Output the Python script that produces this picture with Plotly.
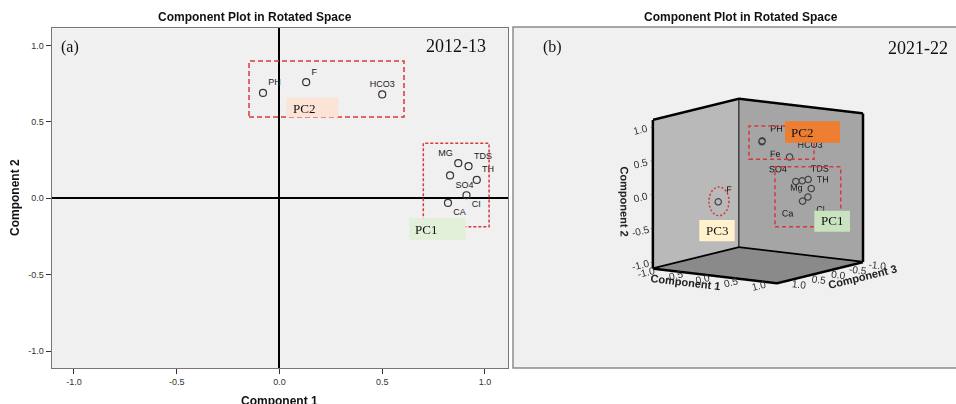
import plotly.graph_objects as go

W, H = 956, 404

# ---------------- data: 2012-13 rotated loadings (PC1, PC2) ----------------
vars_a = ["PH", "F", "HCO3", "MG", "TDS", "SO4", "TH", "CI", "CA"]
pc1_a = [-0.08, 0.13, 0.50, 0.87, 0.92, 0.83, 0.96, 0.91, 0.82]
pc2_a = [0.69, 0.76, 0.68, 0.23, 0.21, 0.15, 0.12, 0.02, -0.03]

# ---------------- data: 2021-22 rotated loadings (PC1, PC2, PC3) ----------------
vars_b = ["PH", "Fe", "HCO3", "SO4", "TDS", "TH", "Mg", "Cl", "Ca", "F"]
pc1_b = [0.07, 0.08, 0.59, 0.84, 0.85, 0.92, 0.94, 0.95, 0.89, -0.12]
pc2_b = [0.75, 0.74, 0.57, 0.26, 0.25, 0.27, 0.13, 0.02, -0.04, -0.05]
pc3_b = [0.00, 0.02, 0.05, 0.25, 0.10, 0.05, 0.00, 0.10, 0.15, 0.85]

tick_vals = [-1.0, -0.5, 0.0, 0.5, 1.0]
tick_text = ["-1.0", "-0.5", "0.0", "0.5", "1.0"]

# label placement (style)
pos_a = ["top right", "top right", "top center", "top left", "top right",
         "bottom right", "top right", "bottom right", "bottom right"]
pos_b = ["top right", "bottom right", "top right", "top left", "top right",
         "middle right", "middle left", "bottom right", "bottom left", "top right"]

SANS = "Liberation Sans, Arial, sans-serif"
SERIF = "Liberation Serif, Times New Roman, serif"
LIM = 1.1


def px(x):
    return x / W


def py(y):
    return 1 - y / H


fig = go.Figure()

# ---- panel (a): 2-D loading plot ----
fig.add_trace(go.Scatter(
    x=pc1_a, y=pc2_a, text=vars_a, mode="markers+text",
    textposition=pos_a,
    textfont=dict(family=SANS, size=9, color="#1a1a1a"),
    marker=dict(symbol="circle-open", size=7, color="#333", line=dict(width=1.2)),
    cliponaxis=False, showlegend=False, hoverinfo="skip",
    xaxis="x", yaxis="y",
))

# ---- panel (b): 3-D loading plot (x = Component 3, y = Component 1, z = Component 2) ----
R = LIM
cx = [R, R, None, -R, -R, None, -R, -R, None, R, -R, -R, None,
      R, -R, -R, None, R, R, -R]
cy = [-R, -R, None, -R, -R, None, R, R, None, -R, -R, R, None,
      -R, -R, R, None, -R, R, R]
cz = [-R, R, None, -R, R, None, -R, R, None, R, R, R, None,
      -R, -R, -R, None, -R, -R, -R]
fig.add_trace(go.Scatter3d(
    x=cx, y=cy, z=cz, mode="lines", connectgaps=False,
    line=dict(color="black", width=5), showlegend=False, hoverinfo="skip",
    scene="scene",
))
fig.add_trace(go.Scatter3d(
    x=pc3_b, y=pc1_b, z=pc2_b, text=vars_b, mode="markers+text",
    textposition=pos_b,
    textfont=dict(family=SANS, size=9, color="#1a1a1a"),
    marker=dict(symbol="circle-open", size=4, color="#333", line=dict(width=1.5)),
    showlegend=False, hoverinfo="skip", scene="scene",
))

ax3 = dict(range=[-LIM, LIM], tickvals=tick_vals, ticktext=tick_text,
           showgrid=False, zeroline=False, showline=False,
           showbackground=True, ticks="outside", ticklen=4,
           tickcolor="#333", tickfont=dict(family=SANS, size=11, color="#333"),
           showspikes=False)
title3 = dict(family=SANS, size=11, color="#222", weight="bold")

fig.update_layout(
    width=W, height=H, margin=dict(l=0, r=0, t=0, b=0),
    paper_bgcolor="white", plot_bgcolor="#f0f0f0",
    xaxis=dict(domain=[px(51.7), px(508)], range=[-1.108, 1.112],
               tickvals=tick_vals, ticktext=tick_text,
               ticks="outside", ticklen=5, tickcolor="#333",
               tickfont=dict(family=SANS, size=9, color="#333"),
               showgrid=False, zeroline=True, zerolinecolor="black", zerolinewidth=1.5,
               showline=True, linecolor="#777", linewidth=1.2, mirror=True),
    yaxis=dict(domain=[py(368.3), py(28.3)], range=[-1.113, 1.113],
               tickvals=tick_vals, ticktext=tick_text,
               ticks="outside", ticklen=5, tickcolor="#333",
               tickfont=dict(family=SANS, size=9, color="#333"),
               showgrid=False, zeroline=True, zerolinecolor="black", zerolinewidth=1.5,
               showline=True, linecolor="#777", linewidth=1.2, mirror=True),
    scene=dict(
        domain=dict(x=[px(560), 1.0], y=[py(342), py(40)]),
        aspectmode="cube",
        bgcolor="rgba(0,0,0,0)",
        xaxis=dict(ax3, title=dict(text="Component 3", font=title3), backgroundcolor="#a5a5a5"),
        yaxis=dict(ax3, title=dict(text="Component 1", font=title3), backgroundcolor="#b9b9b9"),
        zaxis=dict(ax3, title=dict(text="Component 2", font=title3), backgroundcolor="#8a8a8a"),
        camera=dict(eye=dict(x=2 * 0.810, y=2 * 0.561, z=2 * 0.170),
                    up=dict(x=0, y=0, z=1), center=dict(x=0, y=0, z=0),
                    projection=dict(type="orthographic")),
    ),
)

shapes = []
# panel (b) frame
shapes.append(dict(type="rect", xref="paper", yref="paper", layer="below",
                   x0=px(513), x1=px(960), y0=py(368), y1=py(27),
                   fillcolor="#f0f0f0", line=dict(color="#8c8c8c", width=1.5)))
# panel (a) group boxes and labels
shapes.append(dict(type="rect", xref="x", yref="y", x0=-0.148, x1=0.606, y0=0.532, y1=0.899,
                   line=dict(color="#d9383a", width=1.5, dash="5px,3px")))
shapes.append(dict(type="rect", xref="x", yref="y", x0=0.70, x1=1.02, y0=-0.186, y1=0.36,
                   line=dict(color="#d9383a", width=1.5, dash="3px,2px")))
shapes.append(dict(type="rect", xref="x", yref="y", x0=0.035, x1=0.286, y0=0.530, y1=0.659,
                   fillcolor="#fbe3d5", line=dict(width=0), layer="above"))
shapes.append(dict(type="rect", xref="x", yref="y", x0=0.632, x1=0.906, y0=-0.273, y1=-0.131,
                   fillcolor="#e2efd9", line=dict(width=0), layer="above"))
# panel (b) group boxes and labels
red_b = dict(color="#d9383a", width=1.5, dash="4px,3px")
shapes.append(dict(type="rect", xref="paper", yref="paper", layer="above",
                   x0=px(749), x1=px(814), y0=py(159.3), y1=py(126), line=red_b))
shapes.append(dict(type="rect", xref="paper", yref="paper", layer="above",
                   x0=px(775), x1=px(840.7), y0=py(226.7), y1=py(166.7), line=red_b))
shapes.append(dict(type="circle", xref="paper", yref="paper", layer="above",
                   x0=px(709), x1=px(729), y0=py(215.7), y1=py(187),
                   line=dict(color="#d9383a", width=1.5, dash="2px,2px")))
shapes.append(dict(type="rect", xref="paper", yref="paper", layer="above",
                   x0=px(785), x1=px(840), y0=py(142.7), y1=py(121.3),
                   fillcolor="#ed7d31", line=dict(width=0)))
shapes.append(dict(type="rect", xref="paper", yref="paper", layer="above",
                   x0=px(814.3), x1=px(850), y0=py(231.7), y1=py(210.7),
                   fillcolor="#c9e2bf", line=dict(width=0)))
shapes.append(dict(type="rect", xref="paper", yref="paper", layer="above",
                   x0=px(699.3), x1=px(734.7), y0=py(241.3), y1=py(220),
                   fillcolor="#fff2cc", line=dict(width=0)))

ann = []


def txt(s, x, y, size, family=SANS, bold=False, xanchor="center", angle=0, xref="paper", yref="paper"):
    ann.append(dict(text=f"<b>{s}</b>" if bold else s, x=x, y=y, xref=xref, yref=yref,
                    xanchor=xanchor, yanchor="middle", showarrow=False, textangle=angle,
                    font=dict(family=family, size=size, color="#111")))


txt("Component Plot in Rotated Space", px(255), py(17), 12, bold=True)
txt("Component Plot in Rotated Space", px(740.7), py(17), 12, bold=True)
txt("Component 1", px(279), py(401), 12, bold=True)
txt("Component 2", px(15), py(198), 12, bold=True, angle=-90)
txt("(a)", px(70), py(46.7), 16, family=SERIF)
txt("2012-13", px(488), py(45.7), 18, family=SERIF, xanchor="right")
txt("(b)", px(552), py(47), 16, family=SERIF)
txt("2021-22", px(950), py(48), 18, family=SERIF, xanchor="right")
txt("PC2", 0.118, 0.589, 13, family=SERIF, xref="x", yref="y")
txt("PC1", 0.713, -0.206, 13, family=SERIF, xref="x", yref="y")
txt("PC2", px(802.3), py(132.3), 13, family=SERIF)
txt("PC1", px(831.7), py(220.7), 13, family=SERIF)
txt("PC3", px(716.8), py(230.7), 13, family=SERIF)

fig.update_layout(shapes=shapes, annotations=ann)
fig.write_html("out.html")
